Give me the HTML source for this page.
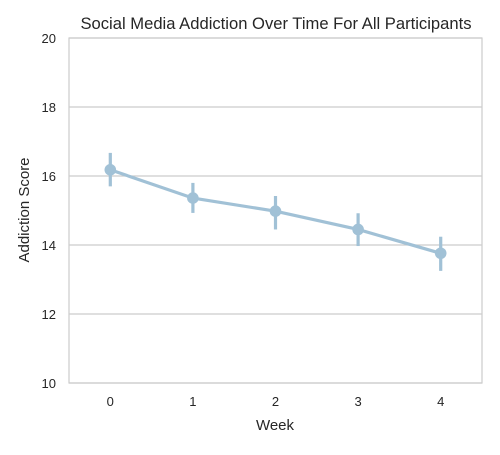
<!DOCTYPE html>
<html><head><meta charset="utf-8"><style>
body{margin:0;background:#fff;}
svg text{font-family:"Liberation Sans",sans-serif;fill:#262626;}
</style></head><body>
<svg id="chart" width="500" height="450" xmlns="http://www.w3.org/2000/svg">
<rect x="0" y="0" width="500" height="450" fill="#fff"/>
<g id="grid"></g>
<rect x="69" y="38" width="413" height="345" fill="none" stroke="#cccccc" stroke-width="1.2"/>
<g id="ticks"></g>
<g id="marks"></g>
<text x="276" y="29" text-anchor="middle" font-size="16.6">Social Media Addiction Over Time For All Participants</text>
<text x="275" y="430" text-anchor="middle" font-size="15">Week</text>
<text x="29" y="210" text-anchor="middle" font-size="15" transform="rotate(-90 29 210)">Addiction Score</text>
</svg>
<script>
const weeks=[0,1,2,3,4];
const means=[16.18,15.36,14.98,14.45,13.76];
const lows=[15.7,14.93,14.45,13.97,13.25];
const highs=[16.67,15.8,15.42,14.92,14.24];
const yTicks=[10,12,14,16,18,20];
const NS="http://www.w3.org/2000/svg";
const x=v=>69+(v+0.5)/5*413;
const y=v=>383-(v-10)/10*345;
function mk(tag,attrs,parent){const e=document.createElementNS(NS,tag);for(const k in attrs)e.setAttribute(k,attrs[k]);document.getElementById(parent).appendChild(e);return e;}
yTicks.forEach(t=>{
  const g=mk('line',{x1:69,x2:482,y1:y(t),y2:y(t),stroke:'#cccccc','stroke-width':1.2},'grid');
  
  
  const l=mk('text',{x:56,y:y(t)+5,'text-anchor':'end','font-size':13},'ticks');
  l.textContent=t;
  
  
});
weeks.forEach(w=>{
  const l=mk('text',{x:x(w),y:406,'text-anchor':'middle','font-size':13},'ticks');
  l.textContent=w;
  
  
});
const col='#a1c1d6';
const pl=mk('polyline',{points:weeks.map((w,i)=>x(w)+','+y(means[i])).join(' '),fill:'none',stroke:col,'stroke-width':3.2},'marks');


weeks.forEach((w,i)=>{
  const e=mk('line',{x1:x(w),x2:x(w),y1:y(lows[i]),y2:y(highs[i]),stroke:col,'stroke-width':3.2},'marks');
  
  
  const c=mk('circle',{cx:x(w),cy:y(means[i]),r:5.8,fill:col},'marks');
  
  
});
</script>
</body></html>
